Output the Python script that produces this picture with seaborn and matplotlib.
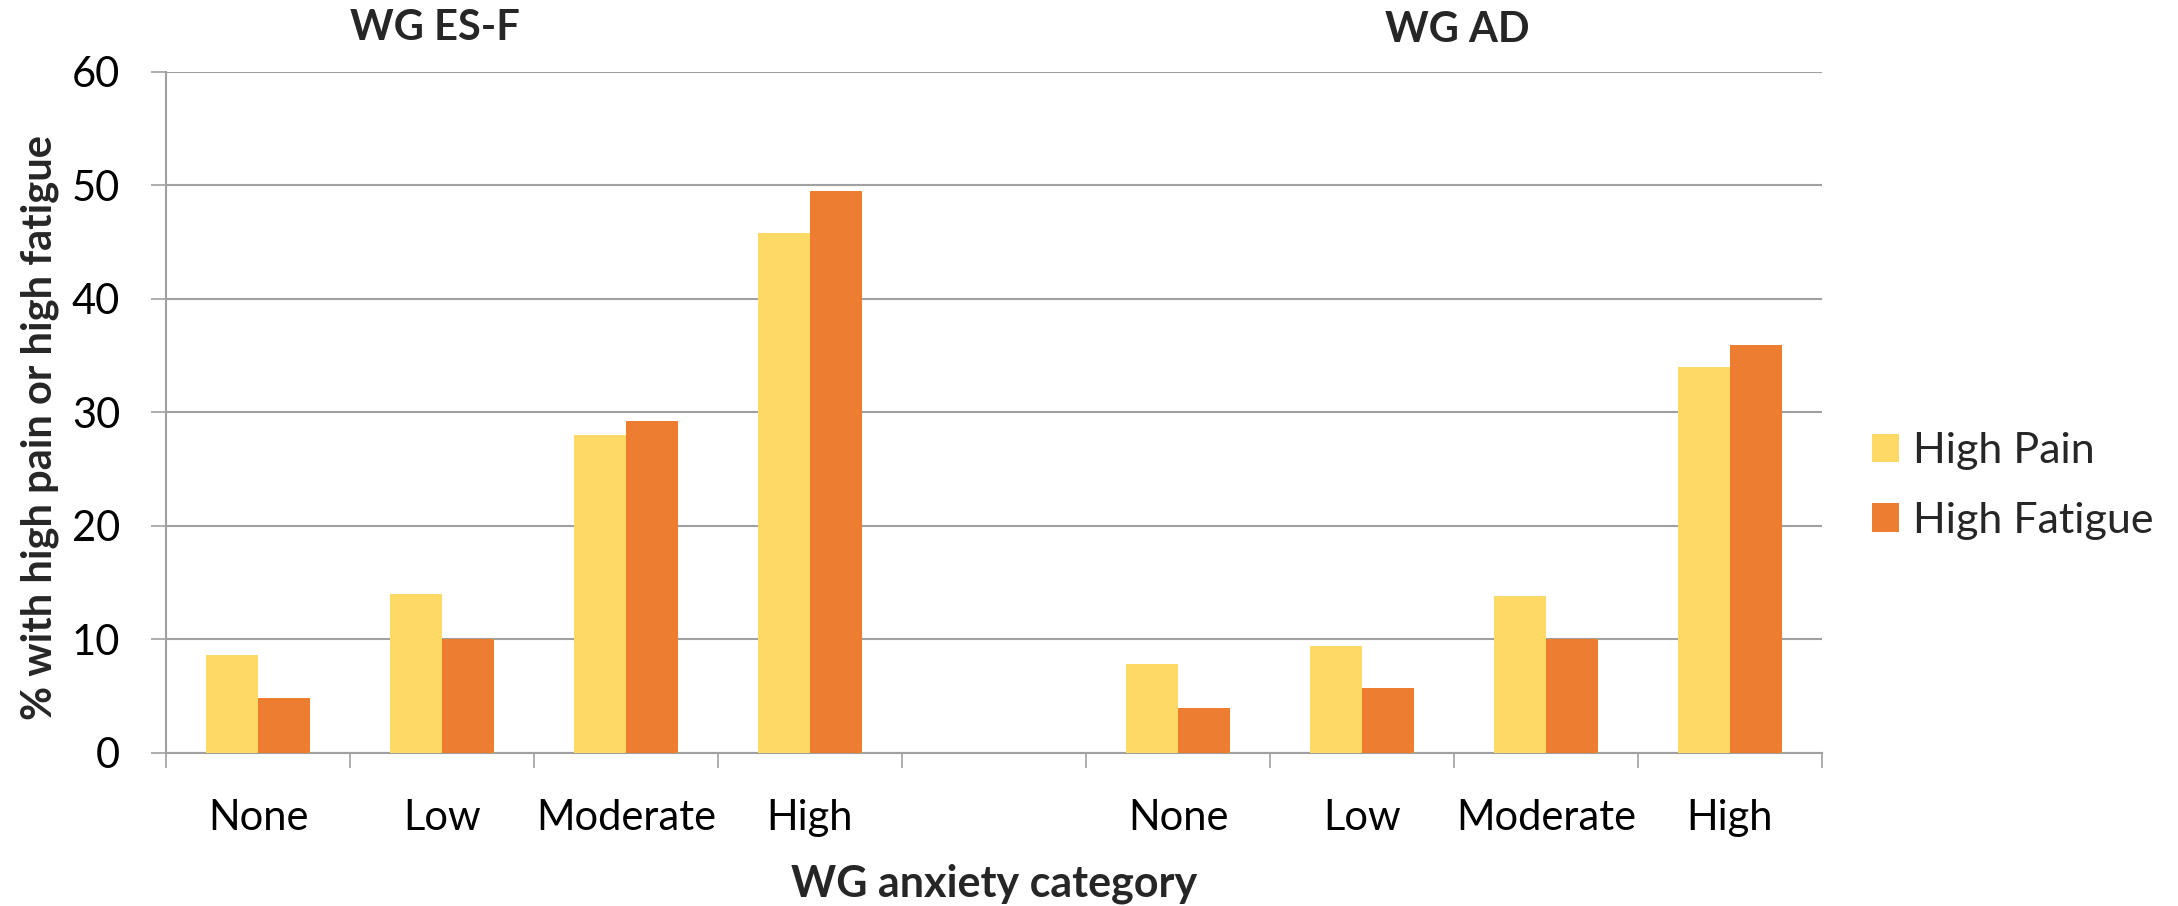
import matplotlib
matplotlib.use("Agg")
import matplotlib.pyplot as plt
import seaborn as sns
import pandas as pd
from matplotlib.patches import Patch

# Data: % of patients with high pain / high fatigue by anxiety category
levels = ["None", "Low", "Moderate", "High"]
scales = ["WG ES-F", "WG AD"]
esf_pain = [8.6, 14.0, 28.0, 45.8]
esf_fatigue = [4.8, 10.0, 29.2, 49.5]
ad_pain = [7.8, 9.4, 13.8, 34.0]
ad_fatigue = [4.0, 5.7, 10.0, 35.9]
measures = ["High Pain", "High Fatigue"]
colors = ["#FFD966", "#ED7D31"]
yticks = [0, 10, 20, 30, 40, 50, 60]

rows = []
for scale, pain, fatigue in [(scales[0], esf_pain, esf_fatigue),
                             (scales[1], ad_pain, ad_fatigue)]:
    for lvl, p, f in zip(levels, pain, fatigue):
        key = f"{scale}|{lvl}"
        rows.append({"slot": key, "measure": measures[0], "value": p})
        rows.append({"slot": key, "measure": measures[1], "value": f})
df = pd.DataFrame(rows)

# Nine category slots: four levels, an empty spacer, four levels
order = [f"{scales[0]}|{l}" for l in levels] + ["gap"] + [f"{scales[1]}|{l}" for l in levels]
tick_labels = levels + [""] + levels

sns.set_theme(style="white")
plt.rcParams["font.family"] = ["Lato", "DejaVu Sans"]

W, H = 2178, 906
fig = plt.figure(figsize=(W / 100, H / 100), dpi=100)
ax = fig.add_axes([166 / W, 1 - 753 / H, (1822 - 166) / W, (753 - 71.7) / H])

sns.barplot(data=df, x="slot", y="value", hue="measure", order=order,
            hue_order=measures, palette=colors, width=0.57, saturation=1,
            edgecolor="none", linewidth=0, ax=ax, zorder=3)

grid_c = "#A0A0A0"
ax.set_ylim(0, 60)
ax.set_xlim(-0.5, len(order) - 0.5)
ax.set_yticks(yticks)
ax.set_yticklabels([str(v) for v in yticks], fontsize=30)
ax.yaxis.grid(True, color=grid_c, lw=1.5, zorder=0)
ax.set_axisbelow(True)

ax.set_xticks(range(len(order)))
ax.set_xticklabels(tick_labels, fontsize=30)
ax.set_xticks([i - 0.5 for i in range(len(order) + 1)], minor=True)
ax.tick_params(axis="x", which="major", length=0, pad=33, colors="black")
ax.tick_params(axis="x", which="minor", length=11, width=1.2, color=grid_c,
               direction="out", bottom=True)
ax.tick_params(axis="y", which="major", length=11, width=1.2, color=grid_c,
               direction="out", pad=22, left=True, labelcolor="black")

for side in ["top", "right"]:
    ax.spines[side].set_visible(False)
for side in ["left", "bottom"]:
    ax.spines[side].set_color(grid_c)
    ax.spines[side].set_linewidth(1.5)

ax.set_xlabel("")
ax.set_ylabel("")

# Panel titles above each group
fig.text(434.5 / W, 1 - 28 / H, scales[0], fontsize=30, fontweight="bold",
         ha="center", va="center")
fig.text(1457 / W, 1 - 30 / H, scales[1], fontsize=30, fontweight="bold",
         ha="center", va="center")

fig.text(994 / W, 1 - 896 / H, "WG anxiety category", fontsize=31,
         fontweight="bold", ha="center", va="baseline")
fig.text(40 / W, 1 - 428 / H, "% with high pain or high fatigue", fontsize=30,
         fontweight="bold", ha="center", va="center", rotation=90)

if ax.get_legend() is not None:
    ax.get_legend().remove()
handles = [Patch(facecolor=c, edgecolor="none") for c in colors]
fig.legend(handles, measures, loc="center left",
           bbox_to_anchor=(1872 / W, 1 - 486 / H), frameon=False,
           fontsize=31, handlelength=0.63, handleheight=0.63,
           handletextpad=0.33, labelspacing=0.73, borderpad=0,
           borderaxespad=0)

fig.savefig("out.png", dpi=100)
